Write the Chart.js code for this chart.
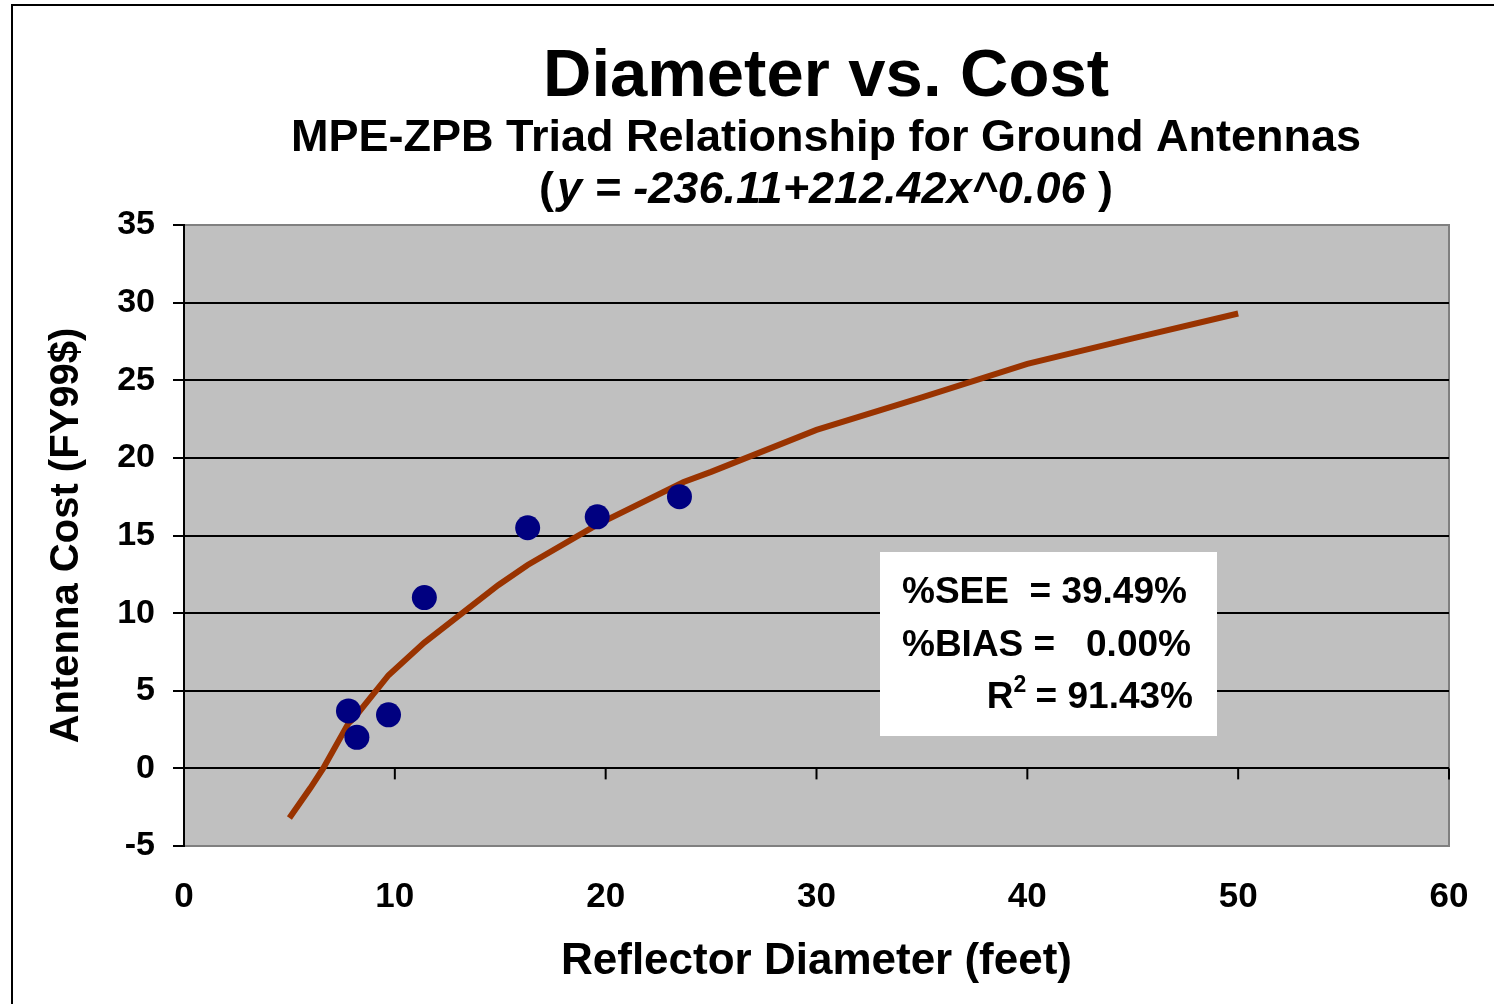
<!DOCTYPE html>
<html>
<head>
<meta charset="utf-8">
<title>Diameter vs. Cost</title>
<script src="https://cdn.jsdelivr.net/npm/chart.js@4.4.1/dist/chart.umd.min.js"></script>
<style>
  html, body { margin: 0; padding: 0; background: #fff; }
  #wrap { width: 1494px; height: 1004px; position: relative; }
</style>
</head>
<body>
<div id="wrap"><canvas id="chart"></canvas></div>
<script>
// antenna samples: reflector diameter (feet) vs cost (FY99$)
const diameters = [7.8, 8.2, 9.7, 11.4, 16.3, 19.6, 23.5];
const costs = [3.7, 2.0, 3.45, 11.0, 15.5, 16.2, 17.5];

// fitted curve as plotted
const fitDiameters = [5, 6, 6.6, 7.8, 8.1, 9.7, 11.4, 14.9, 16.3, 19.6, 23.7, 25, 30, 35, 40, 45, 50];
const fitCosts = [-3.2, -1.25, 0, 2.9, 3.3, 6.0, 8.1, 11.8, 13.1, 15.7, 18.45, 19.1, 21.8, 23.9, 26.05, 27.7, 29.3];

const xTicks = [0, 10, 20, 30, 40, 50, 60];
const yTicks = [-5, 0, 5, 10, 15, 20, 25, 30, 35];

const stats = ["%SEE  = 39.49%", "%BIAS =   0.00%", "= 91.43%"];

const FONT = "'Liberation Sans', Arial, Helvetica, sans-serif";

const toXY = (xs, ys) => xs.map((x, i) => ({ x: x, y: ys[i] }));

// plot background, outer frame, titles and the stats box
const decor = {
  id: "decor",
  beforeDraw(chart) {
    const { ctx, chartArea: a } = chart;
    ctx.save();
    ctx.fillStyle = "#fff";
    ctx.fillRect(0, 0, chart.width, chart.height);
    ctx.strokeStyle = "#000";
    ctx.lineWidth = 2;
    ctx.beginPath();
    ctx.moveTo(12, chart.height + 2);
    ctx.lineTo(12, 5);
    ctx.lineTo(chart.width + 2, 5);
    ctx.stroke();
    ctx.fillStyle = "#C0C0C0";
    ctx.fillRect(a.left, a.top, a.right - a.left, a.bottom - a.top);
    ctx.strokeStyle = "#808080";
    ctx.strokeRect(a.left, a.top, a.right - a.left, a.bottom - a.top);
    ctx.restore();
  },
  beforeDatasetsDraw(chart) {
    // tick marks hang below the zero line
    const { ctx, scales: { x, y } } = chart;
    const y0 = y.getPixelForValue(0);
    ctx.save();
    ctx.strokeStyle = "#000";
    ctx.lineWidth = 2;
    xTicks.forEach(v => {
      if (v === 0) return;
      const px = x.getPixelForValue(v);
      ctx.beginPath();
      ctx.moveTo(px, y0);
      ctx.lineTo(px, y0 + 11);
      ctx.stroke();
    });
    ctx.restore();
  },
  afterDraw(chart) {
    const { ctx } = chart;
    const cx = 826;
    ctx.save();
    ctx.fillStyle = "#000";
    ctx.textBaseline = "alphabetic";
    ctx.textAlign = "center";
    ctx.font = "bold 67px " + FONT;
    ctx.fillText("Diameter vs. Cost", cx, 96);
    ctx.font = "bold 45px " + FONT;
    ctx.fillText("MPE-ZPB Triad Relationship for Ground Antennas", cx, 151);

    // formula line: upright brackets around italic text
    ctx.textAlign = "left";
    const eq = "y = -236.11+212.42x^0.06";
    ctx.font = "bold 45px " + FONT;
    const wOpen = ctx.measureText("(").width + 3;
    const wClose = ctx.measureText(" )").width;
    ctx.font = "italic bold 45px " + FONT;
    const wEq = ctx.measureText(eq).width;
    let left = cx - (wOpen + wEq + wClose) / 2;
    ctx.font = "bold 45px " + FONT;
    ctx.fillText("(", left, 203);
    ctx.font = "italic bold 45px " + FONT;
    ctx.fillText(eq, left + wOpen, 203);
    ctx.font = "bold 45px " + FONT;
    ctx.fillText(" )", left + wOpen + wEq, 203);

    // stats box
    ctx.fillStyle = "#fff";
    ctx.fillRect(880, 552, 337, 184);
    ctx.fillStyle = "#000";
    ctx.font = "bold 37px " + FONT;
    ctx.fillText(stats[0], 902, 603);
    ctx.fillText(stats[1], 902, 656);
    ctx.textAlign = "right";
    ctx.fillText(stats[2], 1193, 708);
    const wVal = ctx.measureText(" " + stats[2]).width;
    ctx.font = "bold 23px " + FONT;
    const wSup = ctx.measureText("2").width;
    ctx.fillText("2", 1193 - wVal + 1, 692);
    ctx.font = "bold 37px " + FONT;
    ctx.fillText("R", 1193 - wVal - wSup + 1, 708);
    ctx.restore();
  }
};

new Chart(document.getElementById("chart"), {
  type: "scatter",
  data: {
    datasets: [
      {
        label: "Antennas",
        data: toXY(diameters, costs),
        backgroundColor: "#000080",
        borderWidth: 0,
        pointRadius: 12.5,
        pointHoverRadius: 12.5
      },
      {
        label: "Fit",
        type: "line",
        data: toXY(fitDiameters, fitCosts),
        borderColor: "#993300",
        borderWidth: 6,
        pointRadius: 0,
        tension: 0,
        fill: false
      }
    ]
  },
  options: {
    responsive: true,
    maintainAspectRatio: false,
    animation: false,
    layout: { padding: { top: 225, right: 45, bottom: 0, left: 0 } },
    plugins: {
      legend: { display: false },
      tooltip: { enabled: false }
    },
    scales: {
      x: {
        type: "linear",
        min: 0,
        max: 60,
        afterFit: s => { s.height = 158; s.paddingLeft = 0; s.paddingRight = 0; },
        afterBuildTicks: s => { s.ticks = xTicks.map(v => ({ value: v })); },
        grid: { display: false, drawTicks: false, tickLength: 0 },
        border: { display: false },
        ticks: {
          color: "#000",
          padding: 30,
          maxRotation: 0,
          font: { family: FONT, size: 35, weight: "bold" }
        },
        title: {
          display: true,
          text: "Reflector Diameter (feet)",
          color: "#000",
          padding: { top: 0, bottom: 16 },
          font: { family: FONT, size: 44, weight: "bold" }
        }
      },
      y: {
        type: "linear",
        min: -5,
        max: 35,
        afterFit: s => { s.width = 184; },
        afterBuildTicks: s => { s.ticks = yTicks.map(v => ({ value: v })); },
        grid: {
          color: c => (c.tick && (c.tick.value === 35 || c.tick.value === -5)) ? "rgba(0,0,0,0)" : "#000",
          tickColor: "#000",
          lineWidth: 2,
          tickLength: 11
        },
        border: { color: "#000", width: 2 },
        ticks: {
          color: "#000",
          padding: 18,
          font: { family: FONT, size: 34, weight: "bold" }
        },
        title: {
          display: true,
          text: "Antenna Cost (FY99$)",
          color: "#000",
          padding: { top: 43, bottom: 0 },
          font: { family: FONT, size: 40, weight: "bold" }
        }
      }
    }
  },
  plugins: [decor]
});
</script>
</body>
</html>
